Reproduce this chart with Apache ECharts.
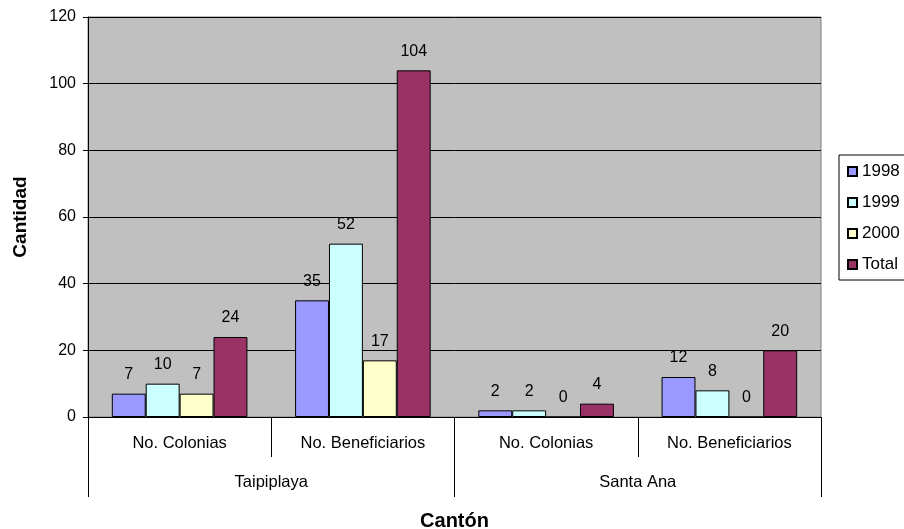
<!DOCTYPE html>
<html><head><meta charset="utf-8">
<script src="https://cdn.jsdelivr.net/npm/echarts@6/dist/echarts.min.js"></script>
<style>html,body{margin:0;padding:0;background:#fff}#c{width:904px;height:529px}</style>
</head><body><div id="c"></div>
<script>
const categories = ['No. Colonias','No. Beneficiarios','No. Colonias','No. Beneficiarios'];
const groups = ['Taipiplaya','Santa Ana'];
const s1998 = [7,35,2,12];
const s1999 = [10,52,2,8];
const s2000 = [7,17,0,0];
const sTotal = [24,104,4,20];
const seriesNames = ['1998','1999','2000','Total'];
const colors = ['#9999FF','#CCFFFF','#FFFFCC','#993366'];
const values = [s1998,s1999,s2000,sTotal];
const FONT = 'Liberation Sans, Arial, sans-serif';

const chart = echarts.init(document.getElementById('c'));
chart.setOption({
  animation:false,
  textStyle:{fontFamily:FONT},
  grid:{left:88,right:83,top:17,bottom:112,outerBoundsMode:'none',containLabel:false,show:true,backgroundColor:'#C0C0C0',borderColor:'#808080',borderWidth:1},
  legend:{orient:'vertical',left:839,top:155,data:seriesNames,icon:'rect',itemWidth:9,itemHeight:9,itemGap:14,
    padding:[8,6,7,8],borderColor:'#000',borderWidth:1,backgroundColor:'#fff',
    textStyle:{fontSize:17,color:'#000',fontFamily:FONT}},
  xAxis:[{
    type:'category',data:categories,position:'bottom',
    axisLine:{lineStyle:{color:'#000',width:1}},
    axisTick:{show:true,length:40,lineStyle:{color:'#000'}},
    axisLabel:{fontSize:16.5,color:'#000',margin:18,fontFamily:FONT},
  },{
    type:'category',data:groups,position:'bottom',
    axisLine:{show:false},
    axisTick:{show:true,length:80,lineStyle:{color:'#000'}},
    axisLabel:{fontSize:16.5,color:'#000',margin:57,fontFamily:FONT},
    name:'Cantón',nameLocation:'middle',nameGap:94,
    nameTextStyle:{fontSize:20,fontWeight:'bold',color:'#000',fontFamily:FONT}
  }],
  yAxis:{type:'value',min:0,max:120,interval:20,
    axisLine:{show:true,lineStyle:{color:'#000'}},
    axisTick:{show:true,length:5,lineStyle:{color:'#000'}},
    axisLabel:{fontSize:16,color:'#000',margin:12,fontFamily:FONT},
    splitLine:{lineStyle:{color:'#000',width:1}},
    name:'Cantidad',nameLocation:'middle',nameGap:58,
    nameTextStyle:{fontSize:19,fontWeight:'bold',color:'#000',fontFamily:FONT}
  },
  series: seriesNames.map((n,i)=>({
    name:n,type:'bar',xAxisIndex:0,data:values[i],
    barGap:'0%',barCategoryGap:'26%',
    itemStyle:{color:colors[i],borderColor:'#000',borderWidth:1},
    label:{show:true,position:'top',distance:11,fontSize:16,color:'#000',fontFamily:FONT}
  }))
});
</script></body></html>
